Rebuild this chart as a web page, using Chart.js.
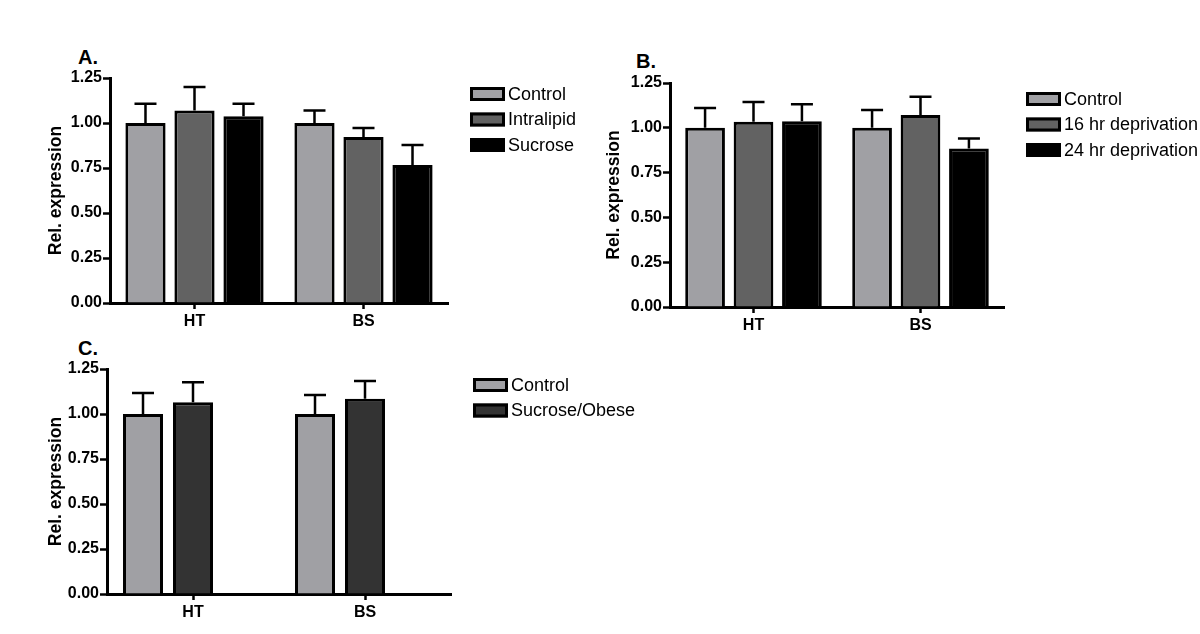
<!DOCTYPE html>
<html>
<head>
<meta charset="utf-8">
<script src="https://cdn.jsdelivr.net/npm/chart.js@4.4.0/dist/chart.umd.min.js"></script>
<style>
  body { margin: 0; background: #fff; width: 1200px; height: 634px; position: relative; overflow: hidden; }
  canvas { position: absolute; }
  .tag { position: absolute; font: bold 20px "Liberation Sans", Arial, sans-serif; color: #000; }
</style>
</head>
<body>
<div class="tag" style="left:78px;top:46px">A.</div>
<div class="tag" style="left:636px;top:50px">B.</div>
<div class="tag" style="left:78px;top:337px">C.</div>
<canvas id="panelA" width="600" height="300" style="left:0;top:40px"></canvas>
<canvas id="panelB" width="640" height="300" style="left:560px;top:45px"></canvas>
<canvas id="panelC" width="660" height="300" style="left:0;top:331px"></canvas>
<script>
const regions = ["HT", "BS"];
const yTicks = [0, 0.25, 0.5, 0.75, 1.0, 1.25];

// panel A: diet
const aLabels = ["Control", "Intralipid", "Sucrose"];
const aControl = [1.0, 1.0];
const aIntralipid = [1.069, 0.922];
const aSucrose = [1.037, 0.767];
const aControlErr = [0.107, 0.069];
const aIntralipidErr = [0.131, 0.05];
const aSucroseErr = [0.07, 0.111];

// panel B: food deprivation
const bLabels = ["Control", "16 hr deprivation", "24 hr deprivation"];
const bControl = [1.0, 1.0];
const b16hr = [1.034, 1.071];
const b24hr = [1.037, 0.885];
const bControlErr = [0.11, 0.1];
const b16hrErr = [0.11, 0.102];
const b24hrErr = [0.094, 0.055];

// panel C: obesity
const cLabels = ["Control", "Sucrose/Obese"];
const cControl = [1.0, 1.0];
const cObese = [1.065, 1.085];
const cControlErr = [0.116, 0.105];
const cObeseErr = [0.111, 0.098];

const FONT = '"Liberation Sans", Arial, sans-serif';
const LIGHT = "#a0a0a4";
const MID = "#626262";
const DARK = "#333333";

const errorBars = {
  id: "errorBars",
  afterDatasetsDraw(chart) {
    const ctx = chart.ctx;
    const y = chart.scales.y;
    chart.data.datasets.forEach((ds, i) => {
      if (!ds.err) return;
      chart.getDatasetMeta(i).data.forEach((bar, j) => {
        const v = ds.data[j];
        if (v == null) return;
        const top = y.getPixelForValue(v + ds.err[j]);
        ctx.save();
        ctx.strokeStyle = "#000";
        ctx.lineWidth = 2.5;
        ctx.beginPath();
        ctx.moveTo(bar.x, bar.y);
        ctx.lineTo(bar.x, top);
        ctx.moveTo(bar.x - 11, top);
        ctx.lineTo(bar.x + 11, top);
        ctx.stroke();
        ctx.restore();
      });
    });
  },
};

const sideLegend = {
  id: "sideLegend",
  afterDraw(chart) {
    const ctx = chart.ctx;
    const a = chart.chartArea;
    let row = 0;
    chart.data.datasets.forEach((ds) => {
      if (!ds.label) return;
      const x = a.right + 22;
      const cy = a.top + 16 + row * 25.5;
      ctx.save();
      ctx.fillStyle = ds.backgroundColor;
      ctx.fillRect(x, cy - 7, 35, 14);
      ctx.strokeStyle = "#000";
      ctx.lineWidth = 3;
      ctx.strokeRect(x + 1.5, cy - 5.5, 32, 11);
      ctx.fillStyle = "#000";
      ctx.font = "18px " + FONT;
      ctx.textBaseline = "middle";
      ctx.fillText(ds.label, x + 38, cy + 1);
      ctx.restore();
      row++;
    });
  },
};

function barSet(label, data, err, color, cat, bar) {
  return {
    label: label,
    data: data,
    err: err,
    backgroundColor: color,
    borderColor: "#000",
    borderWidth: 3,
    categoryPercentage: cat || 0.87,
    barPercentage: bar || 0.82,
  };
}

function panel(id, datasets, pad, yWidth, xHeight, titlePad) {
  new Chart(document.getElementById(id), {
    type: "bar",
    data: { labels: regions, datasets: datasets },
    options: {
      responsive: false,
      animation: false,
      layout: { padding: pad },
      plugins: { legend: { display: false }, tooltip: { enabled: false } },
      scales: {
        x: {
          afterFit: (s) => { s.height = xHeight; },
          grid: { offset: false, drawOnChartArea: false, tickLength: 6, tickWidth: 2.5, tickColor: "#000" },
          border: { color: "#000", width: 3 },
          ticks: { color: "#000", padding: 3, font: { family: FONT, size: 16, weight: "bold" } },
        },
        y: {
          min: 0,
          max: 1.25,
          afterFit: (s) => { s.width = yWidth; },
          afterBuildTicks: (s) => { s.ticks = yTicks.map((v) => ({ value: v })); },
          grid: { drawOnChartArea: false, tickLength: 7, tickWidth: 2.5, tickColor: "#000" },
          border: { color: "#000", width: 3 },
          ticks: {
            color: "#000",
            padding: 1,
            font: { family: FONT, size: 16, weight: "bold" },
            callback: (v) => v.toFixed(2),
          },
          title: {
            display: true,
            text: "Rel. expression",
            color: "#000",
            padding: { top: titlePad, bottom: 0 },
            font: { family: FONT, size: 17.5, weight: "bold" },
          },
        },
      },
    },
    plugins: [errorBars, sideLegend],
  });
}

panel("panelA", [
  barSet(aLabels[0], aControl, aControlErr, LIGHT),
  barSet(aLabels[1], aIntralipid, aIntralipidErr, MID),
  barSet(aLabels[2], aSucrose, aSucroseErr, "#000"),
], { top: 38, right: 152, bottom: 0, left: 0 }, 110, 37, 46);

panel("panelB", [
  barSet(bLabels[0], bControl, bControlErr, LIGHT),
  barSet(bLabels[1], b16hr, b16hrErr, MID),
  barSet(bLabels[2], b24hr, b24hrErr, "#000"),
], { top: 38, right: 196, bottom: 0, left: 0 }, 110, 38, 43.5);

// third slot left empty, as in the original layout
panel("panelC", [
  barSet(cLabels[0], cControl, cControlErr, LIGHT, 0.872, 0.8),
  barSet(cLabels[1], cObese, cObeseErr, DARK, 0.872, 0.8),
  barSet("", [null, null], null, "#fff", 0.872, 0.8),
], { top: 38, right: 209, bottom: 0, left: 0 }, 107, 37, 46);
</script>
</body>
</html>
